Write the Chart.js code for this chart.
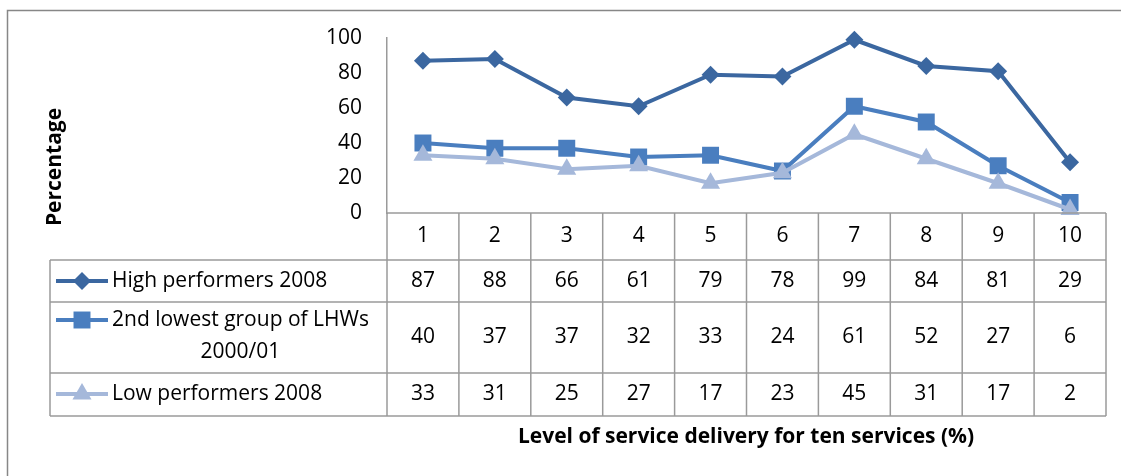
<!DOCTYPE html>
<html>
<head>
<meta charset="utf-8">
<script src="https://cdn.jsdelivr.net/npm/chart.js@4"></script>
<style>
  body { margin: 0; background: #fff; }
  #wrap { width: 1121px; height: 476px; position: relative; }
</style>
</head>
<body>
<div id="wrap"><canvas id="chart"></canvas></div>
<script>
// chart data
const categories = ['1', '2', '3', '4', '5', '6', '7', '8', '9', '10'];
const seriesNames = ['High performers 2008', '2nd lowest group of LHWs 2000/01', 'Low performers 2008'];
const highPerformers = [87, 88, 66, 61, 79, 78, 99, 84, 81, 29];
const secondLowest = [40, 37, 37, 32, 33, 24, 61, 52, 27, 6];
const lowPerformers = [33, 31, 25, 27, 17, 23, 45, 31, 17, 2];
const yTicks = [0, 20, 40, 60, 80, 100];
const yTitle = 'Percentage';
const xTitle = 'Level of service delivery for ten services (%)';

const FONT = '"Open Sans", sans-serif';
const FONT_SIZE = 21;
const colors = ['#3b67a0', '#4a7ebf', '#a5b8da'];
const shapes = ['rectRot', 'rect', 'triangle'];
const radii = [9, 12, 11];
const gridColor = '#9a9a9a';

// table row bands (header, then one per series)
const rowTops = [213, 260, 302, 373, 416];
const tableLeft = 50;

function drawMarker(ctx, shape, x, y, r, color) {
  ctx.save();
  ctx.fillStyle = color;
  ctx.beginPath();
  if (shape === 'rectRot') {
    ctx.moveTo(x - r, y); ctx.lineTo(x, y - r); ctx.lineTo(x + r, y); ctx.lineTo(x, y + r);
  } else if (shape === 'rect') {
    const s = r * Math.SQRT1_2;
    ctx.rect(x - s, y - s, 2 * s, 2 * s);
  } else {
    ctx.moveTo(x, y - r);
    ctx.lineTo(x + r * 0.866, y + r * 0.5);
    ctx.lineTo(x - r * 0.866, y + r * 0.5);
  }
  ctx.closePath();
  ctx.fill();
  ctx.restore();
}

const tablePlugin = {
  id: 'dataTable',
  beforeDraw(chart) {
    const ctx = chart.ctx;
    // outer frame (left and top edges visible)
    ctx.save();
    ctx.strokeStyle = '#878787';
    ctx.lineWidth = 1.5;
    ctx.beginPath();
    ctx.moveTo(7.5, 480); ctx.lineTo(7.5, 10.5); ctx.lineTo(1125, 10.5);
    ctx.stroke();
    ctx.restore();
  },
  afterDraw(chart) {
    const ctx = chart.ctx;
    const area = chart.chartArea;
    const xs = chart.scales.x;
    const colW = (area.right - area.left) / categories.length;
    const allSeries = [highPerformers, secondLowest, lowPerformers];

    ctx.save();
    ctx.strokeStyle = gridColor;
    ctx.lineWidth = 1.5;
    ctx.beginPath();
    // horizontal lines
    ctx.moveTo(area.left, rowTops[0]); ctx.lineTo(area.right, rowTops[0]);
    for (let i = 1; i < rowTops.length; i++) {
      ctx.moveTo(tableLeft, rowTops[i]); ctx.lineTo(area.right, rowTops[i]);
    }
    // vertical lines
    ctx.moveTo(tableLeft, rowTops[1]); ctx.lineTo(tableLeft, rowTops[4]);
    for (let c = 0; c <= categories.length; c++) {
      const x = area.left + c * colW;
      ctx.moveTo(x, rowTops[0]); ctx.lineTo(x, rowTops[4]);
    }
    ctx.stroke();

    // cell text
    ctx.fillStyle = '#000';
    ctx.font = FONT_SIZE + 'px ' + FONT;
    ctx.textAlign = 'center';
    ctx.textBaseline = 'middle';
    categories.forEach((cat, i) => {
      const cx = xs.getPixelForValue(i);
      ctx.fillText(cat, cx, (rowTops[0] + rowTops[1]) / 2);
      allSeries.forEach((vals, s) => {
        ctx.fillText(String(vals[i]), cx, (rowTops[s + 1] + rowTops[s + 2]) / 2);
      });
    });

    // legend keys and series names
    const legendY = [281, 320, 394];
    seriesNames.forEach((name, s) => {
      const y = legendY[s];
      ctx.strokeStyle = colors[s];
      ctx.lineWidth = 4;
      ctx.beginPath();
      ctx.moveTo(56, y); ctx.lineTo(108, y);
      ctx.stroke();
      drawMarker(ctx, shapes[s], 82, y, radii[s], colors[s]);
      ctx.fillStyle = '#000';
      ctx.textAlign = 'left';
      if (s === 1) {
        const first = '2nd lowest group of LHWs';
        const w = ctx.measureText(first).width;
        ctx.fillText(first, 112, y);
        ctx.textAlign = 'center';
        ctx.fillText('2000/01', 112 + w / 2, 352);
      } else {
        ctx.fillText(name, 112, y);
      }
    });

    // axis titles
    ctx.font = 'bold ' + FONT_SIZE + 'px ' + FONT;
    ctx.textAlign = 'center';
    ctx.fillText(xTitle, 746, 437);
    ctx.translate(55, 167);
    ctx.rotate(-Math.PI / 2);
    ctx.fillText(yTitle, 0, 0);
    ctx.restore();
  }
};

const seriesData = [highPerformers, secondLowest, lowPerformers];

new Chart(document.getElementById('chart'), {
  type: 'line',
  data: {
    labels: categories,
    datasets: seriesData.map((vals, s) => ({
      label: seriesNames[s],
      data: vals,
      borderColor: colors[s],
      backgroundColor: colors[s],
      borderWidth: 4,
      pointStyle: shapes[s],
      pointRadius: radii[s],
      pointBorderWidth: 0,
      tension: 0,
      clip: false,
      order: 2 - s
    }))
  },
  options: {
    responsive: true,
    maintainAspectRatio: false,
    animation: false,
    layout: { padding: { top: 38, right: 15, bottom: 263, left: 0 } },
    plugins: { legend: { display: false }, tooltip: { enabled: false } },
    scales: {
      x: { type: 'category', display: false, offset: true },
      y: {
        min: 0,
        max: 100,
        afterFit(scale) { scale.width = 387; },
        afterBuildTicks(scale) { scale.ticks = yTicks.map(v => ({ value: v })); },
        grid: { display: false, drawTicks: false },
        border: { display: true, color: gridColor, width: 1.5 },
        ticks: { padding: 25, color: '#000', font: { family: FONT, size: FONT_SIZE } }
      }
    }
  },
  plugins: [tablePlugin]
});
</script>
</body>
</html>
